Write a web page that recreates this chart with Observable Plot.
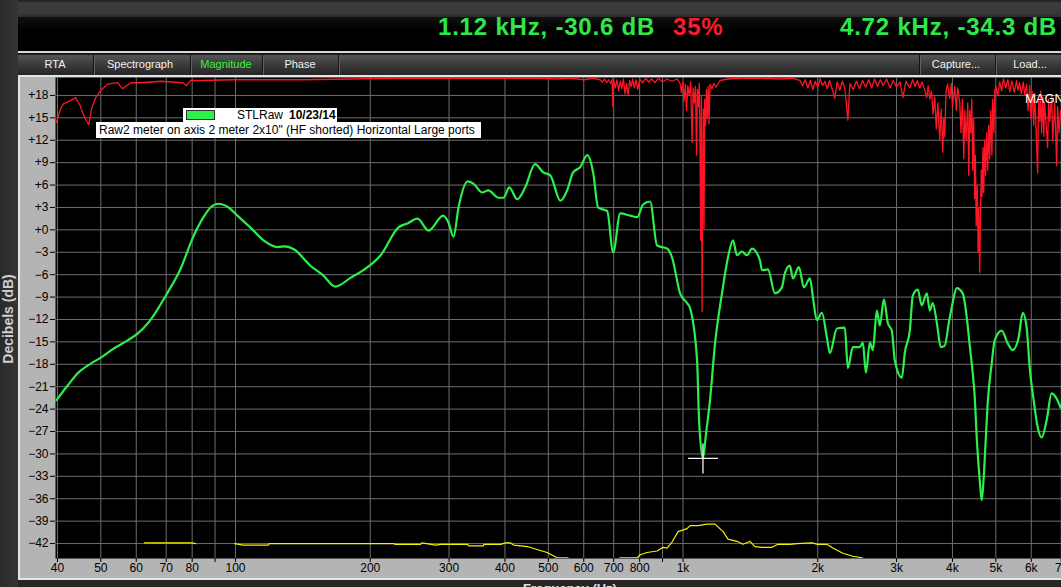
<!DOCTYPE html>
<html>
<head>
<meta charset="utf-8">
<script src="https://cdn.jsdelivr.net/npm/d3@7"></script>
<script src="https://cdn.jsdelivr.net/npm/@observablehq/plot@0.6"></script>
<style>
html,body{margin:0;padding:0;}
body{width:1061px;height:587px;overflow:hidden;background:#262626;position:relative;font-family:"Liberation Sans",Arial,sans-serif;}
.abs{position:absolute;}
#leftcol{left:0;top:0;width:18px;height:587px;background:linear-gradient(90deg,#2a2a2a,#353535);}
#topstrip{left:18px;top:0;width:1043px;height:17px;background:linear-gradient(#1e1e1e 0,#3d3d3d 20%,#383838 80%,#2a2a2a 100%);}
#readout{left:18px;top:17px;width:1043px;height:34px;background:linear-gradient(#101010,#000 40%,#000);}
.ro{position:absolute;top:15px;font-weight:bold;font-size:24px;line-height:24px;letter-spacing:0.8px;color:#2ee84a;white-space:nowrap;}
#sepline{left:18px;top:51px;width:1043px;height:2px;background:#d8d8d8;}
#gap{left:18px;top:53px;width:1043px;height:2px;background:#1a1a1a;}
#tabs{left:18px;top:55px;width:1043px;height:20px;background:linear-gradient(#555 0,#3a3a3a 50%,#262626 100%);}
.sep{position:absolute;top:55px;width:1px;height:20px;background:#151515;box-shadow:1px 0 0 #606060;}
.tab{position:absolute;top:55px;height:20px;line-height:19px;font-size:11px;color:#f2f2f2;text-align:center;width:120px;margin-left:-60px;white-space:nowrap;}
#panel{left:18px;top:75px;width:1043px;height:505px;background:#b4b4b4;box-sizing:border-box;border-left:2px solid #e4e4e4;border-top:2px solid #e4e4e4;border-bottom:2px solid #e4e4e4;}
#plotbox{left:20px;top:77px;width:1041px;height:501px;}
#ytitle{left:-62px;top:310px;width:140px;height:18px;line-height:18px;text-align:center;font-size:14px;font-weight:bold;color:#cfcfcf;transform:rotate(-90deg);white-space:nowrap;}
#xtitle{left:480px;top:581px;width:180px;text-align:center;font-size:13px;font-weight:bold;color:#e0e0e0;white-space:nowrap;}
#leg1{left:183px;top:108px;width:154px;height:14px;background:#fff;}
#swatch{left:186px;top:110px;width:27px;height:8px;background:#2ef04a;border:1px solid #303030;}
.legtxt{position:absolute;font-size:12px;line-height:14px;color:#000;white-space:nowrap;}
#leg2{left:96px;top:122px;width:385px;height:16px;background:#fff;}
#magn{left:1025px;top:91px;font-size:13px;color:#fff;white-space:nowrap;}
</style>
</head>
<body>
<div id="leftcol" class="abs"></div>
<div id="topstrip" class="abs"></div>
<div id="readout" class="abs"></div>
<div class="ro" style="left:438px;">1.12 kHz, -30.6 dB</div>
<div class="ro" style="left:673px;color:#ff1a2a;">35%</div>
<div class="ro" style="left:840px;">4.72 kHz, -34.3 dB</div>
<div id="sepline" class="abs"></div>
<div id="gap" class="abs"></div>
<div id="tabs" class="abs"></div>
<div class="sep" style="left:93px"></div>
<div class="sep" style="left:190px"></div>
<div class="sep" style="left:262px"></div>
<div class="sep" style="left:338px"></div>
<div class="sep" style="left:919px"></div>
<div class="sep" style="left:995px"></div>
<div class="tab" style="left:55px">RTA</div>
<div class="tab" style="left:140px">Spectrograph</div>
<div class="tab" style="left:226px;color:#3df03d">Magnitude</div>
<div class="tab" style="left:300px">Phase</div>
<div class="tab" style="left:956px">Capture...</div>
<div class="tab" style="left:1030px">Load...</div>
<div id="panel" class="abs"></div>
<div id="plotbox" class="abs"></div>
<div id="ytitle" class="abs">Decibels (dB)</div>
<div id="xtitle" class="abs">Frequency (Hz)</div>
<div id="leg1" class="abs"></div>
<div id="swatch" class="abs"></div>
<div class="legtxt" style="left:237px;top:108px;">STLRaw</div>
<div class="legtxt" style="left:289px;top:108px;font-weight:bold;">10/23/14</div>
<div id="leg2" class="abs"></div>
<div class="legtxt" style="left:99px;top:123px;">Raw2 meter on axis 2 meter 2x10" (HF shorted) Horizontal Large ports</div>
<div id="magn" class="abs">MAGNITUDE</div>
<script>
// ---- axis ticks ----
const xTicks = [40,50,60,70,80,90,100,200,300,400,500,600,700,800,900,1000,2000,3000,4000,5000,6000,7000];
const xTickLabels = ["40","50","60","70","80","","100","200","300","400","500","600","700","800","","1k","2k","3k","4k","5k","6k","7k"];
const yTicks = [-42,-39,-36,-33,-30,-27,-24,-21,-18,-15,-12,-9,-6,-3,0,3,6,9,12,15,18];
const yTickLabels = ["\u221242","\u221239","\u221236","\u221233","\u221230","\u221227","\u221224","\u221221","\u221218","\u221215","\u221212","\u22129","\u22126","\u22123","+0","+3","+6","+9","+12","+15","+18"];

// ---- green: magnitude (STLRaw) ----
const greenFreq = [39.8,42.2,44.4,47.5,50.0,53.4,57.4,60.4,63.9,70.5,
75.4,80.2,84.8,87.9,91.6,96.5,101,108,115.5,124,
129,135,147,157,167,181,193,211,231,243,
255,270,291,299,307,315,330,340,356,367,
387,397,409,426,444,467,487,505,532,551,
568,589,611,630,646,677,698,724,762,790,
814,844,875,921,945,985,1021,1037,1075,1086,
1108,1126,1149,1179,1222,1260,1293,1320,1354,1390,
1426,1486,1501,1548,1605,1663,1689,1733,1760,1815,
1863,1921,1951,1991,2043,2096,2129,2207,2299,2335,
2396,2484,2522,2562,2615,2656,2710,2753,2810,2869,
2928,2974,3083,3131,3212,3262,3346,3416,3505,3560,
3614,3690,3766,3844,3925,4006,4089,4217,4305,4372,
4440,4486,4532,4602,4650,4698,4746,4795,4895,4971,
5153,5314,5453,5623,5741,5860,5951,6075,6200,6329,
6494,6663,6837,6979];
const greenDb = [-22.8,-20.8,-19.2,-17.9,-17.1,-15.9,-14.8,-13.9,-12.4,-8.4,
-5.2,-1.1,1.7,3.0,3.5,3.0,1.9,0.3,-1.4,-2.3,
-2.2,-2.6,-4.8,-6.1,-7.6,-6.4,-5.4,-3.4,0.3,0.9,
1.5,-0.1,1.9,1.0,-0.9,3.0,6.5,6.2,5.0,5.3,
4.3,4.3,5.7,4.1,5.7,8.8,7.7,7.3,3.9,5.3,
7.7,8.4,10.0,7.6,3.0,2.5,-3.0,2.2,1.9,1.7,
3.4,3.8,-2.1,-2.5,-3.7,-8.5,-9.8,-10.5,-17.5,-25.5,
-30.6,-27.2,-22.8,-15.2,-8.5,-3.7,-1.4,-3.4,-2.9,-3.4,
-2.5,-4.1,-5.4,-5.3,-8.5,-7.7,-5.8,-4.8,-6.5,-5.0,
-7.7,-6.5,-9.0,-12.1,-11.1,-14.4,-16.5,-13.2,-13.1,-18.5,
-15.7,-15.7,-15.1,-19.1,-15.1,-16.1,-10.8,-12.8,-9.3,-12.5,
-13.5,-17.5,-19.8,-16.4,-13.5,-8.8,-8.0,-10.1,-8.5,-10.8,
-9.8,-12.4,-15.7,-15.5,-12.5,-9.7,-7.8,-8.5,-11.7,-15.5,
-19.2,-22.4,-27.8,-33.5,-36.2,-33.1,-28.2,-23.2,-17.9,-14.8,
-13.5,-15.2,-16.1,-14.4,-11.1,-13.1,-18.4,-22.8,-26.4,-27.8,
-25.5,-21.9,-22.6,-23.8];

// ---- red: coherence trace ----
const redFreq = [39.8,40.7,41.3,42.8,43.9,44.9,45.6,46.5,47.0,47.7,
48.7,50.0,51.8,54.5,55.9,58.3,61.4,68,76.2,77.7,
79.4,83.5,97.5,140,234,352,480,520,560,600,
630,653,660,668,675,682,690,694,697,700,
706,712,718,724,730,736,742,748,754,760,
766,772,778,785,792,800,812,825,838,850,
866,880,900,920,945,970,985,992,998,1005,
1012,1018,1025,1032,1040,1048,1053,1060,1066,1072,
1077,1082,1087,1091,1095,1099,1103,1106,1110,1114,
1118,1123,1128,1133,1138,1143,1149,1160,1172,1185,
1209,1260,1340,1486,1646,1750,1825,1850,1875,1900,
1925,1950,1975,2000,2025,2050,2075,2100,2125,2150,
2184,2210,2241,2270,2300,2335,2360,2400,2440,2480,
2520,2560,2600,2640,2680,2720,2760,2800,2850,2899,
2950,3000,3051,3099,3150,3212,3260,3300,3340,3381,
3420,3460,3505,3530,3560,3590,3620,3652,3680,3710,
3747,3775,3805,3825,3844,3870,3900,3945,3975,4000,
4048,4080,4110,4153,4180,4210,4240,4262,4290,4328,
4350,4372,4395,4418,4440,4460,4486,4500,4520,4545,
4565,4579,4602,4620,4640,4660,4680,4698,4721,4745,
4770,4795,4820,4845,4870,4900,4920,4950,4971,5000,
5050,5100,5150,5200,5260,5320,5370,5430,5500,5560,
5600,5652,5700,5760,5800,5860,5900,5951,5990,6030,
6075,6110,6150,6200,6230,6270,6300,6329,6370,6400,
6427,6480,6527,6560,6600,6663,6700,6768,6800,6837,
6870,6920,6979];
const redDb = [14.4,16.3,16.9,17.3,17.7,16.7,15.6,14.5,14.1,16.3,
17.7,18.7,19.5,19.7,18.9,19.7,19.7,19.9,19.7,19.3,
20.0,20.0,20.1,20.1,20.3,20.3,20.3,20.2,20.3,20.1,
20.3,20.1,19.8,20.2,19.7,20.1,19.6,20.2,16.5,20.0,
19.0,20.1,18.6,19.9,18.9,20.2,18.2,19.6,18.0,20.0,
19.2,20.2,19.0,20.1,18.8,20.2,19.7,20.3,19.8,20.2,
19.7,20.3,19.8,20.2,19.9,20.2,19.6,18.4,19.8,17.2,
19.5,16.0,19.3,18.0,19.8,11.7,19.0,17.0,19.2,10.0,
18.8,16.5,19.6,12.5,-1.4,18.0,-10.9,4.0,16.2,0.2,
17.5,14.0,18.8,14.9,19.2,14.2,19.5,18.9,19.6,19.1,
20.0,20.2,20.3,20.3,20.2,20.3,20.0,19.3,20.1,19.0,
20.0,18.8,19.9,19.1,20.2,19.3,19.9,18.9,20.0,19.0,
17.6,19.8,18.7,19.9,18.9,14.7,19.6,18.8,19.9,18.9,
20.0,19.1,20.1,19.0,20.2,19.2,20.1,19.3,20.2,19.0,
20.0,19.1,19.8,17.7,19.9,19.0,20.1,19.2,20.0,19.0,
19.8,18.9,17.7,19.3,17.5,18.6,15.5,17.8,13.5,17.0,
12.0,16.2,10.4,15.0,12.5,18.6,19.5,17.6,19.6,16.5,
19.2,16.0,19.0,17.0,13.0,17.5,9.5,16.0,12.0,17.0,
7.3,16.0,13.0,17.5,8.0,15.0,4.2,10.0,0.5,6.0,
-3.0,3.0,-5.7,2.0,8.0,4.5,11.0,5.0,12.0,7.3,
13.0,8.0,14.0,9.5,16.0,10.0,17.5,13.0,18.5,19.2,
18.0,19.8,18.6,20.2,19.0,20.1,18.5,19.9,18.4,20.0,
18.7,19.7,18.2,19.8,18.0,19.5,16.0,19.3,15.0,18.5,
14.0,18.3,13.5,7.6,17.5,14.5,18.6,13.0,17.8,12.5,
17.0,14.0,11.0,17.5,14.5,18.0,12.0,17.0,13.5,8.6,
16.5,13.0,16.0];

// ---- yellow: lower trace ----
const yellowFreq = [62.6,79.8,81.4,90,99.5,104,118.5,119,226,227,
259,261,280,287,330,332,358,359,391,401,
411,418,449,472,497,523,551,589,687,724,
774,790,802,831,875,902,921,945,975,1021,
1037,1080,1131,1179,1229,1260,1320,1361,1411,1448,
1501,1580,1630,1733,1797,1941,2001,2096,2162,2276,
2396,2509,2650];
const yellowDb = [-41.9,-41.9,-42.0,null,-42.0,-42.2,-42.2,-42.0,-42.0,-42.1,
-42.1,-41.9,-42.2,-42.1,-42.1,-42.3,-42.3,-42.1,-42.1,-41.9,
-41.9,-42.2,-42.4,-42.8,-43.2,-43.9,-43.9,-44.6,-44.6,-43.9,
-43.9,-43.9,-43.5,-43.2,-43.0,-42.5,-42.6,-41.8,-40.4,-40.0,
-39.6,-39.6,-39.4,-39.4,-40.4,-41.4,-41.7,-42.1,-41.7,-42.4,
-42.5,-42.5,-42.1,-42.1,-42.0,-41.9,-42.1,-42.1,-42.6,-43.3,
-43.7,-43.9,-44.6];

// ---- cursor ----
const cursorFreq = [1108];
const cursorDb = [-30.6];

const zip = (fs, ds) => fs.map((f, i) => ({f, db: ds[i]}));
const green = zip(greenFreq, greenDb);
const red = zip(redFreq, redDb);
const yellow = zip(yellowFreq, yellowDb);
const cursor = zip(cursorFreq, cursorDb);
const xLabelRows = xTicks.map((t, i) => ({t, label: xTickLabels[i]}));

const yLabel = new Map(yTicks.map((t, i) => [t, yTickLabels[i]]));

const cross = {
  draw(ctx) {
    ctx.moveTo(-15, 0); ctx.lineTo(15, 0);
    ctx.moveTo(0, -15); ctx.lineTo(0, 15);
  }
};

const chart = Plot.plot({
  width: 1041,
  height: 501,
  marginLeft: 35,
  marginRight: 0,
  marginTop: 0,
  marginBottom: 20,
  style: {background: "#b4b4b4", color: "#000", fontFamily: "'Liberation Sans', Arial, sans-serif", fontSize: "12px", overflow: "visible"},
  x: {type: "log", domain: [39.6, 7010], ticks: xTicks, tickFormat: () => "", tickSize: 4, label: null},
  y: {domain: [-44, 20.4], ticks: yTicks, tickFormat: d => yLabel.get(d) ?? "", tickSize: 5, tickPadding: 2, label: null},
  marks: [
    Plot.frame({fill: "#000", stroke: "none"}),
    Plot.ruleX(xTicks, {stroke: "#6e6e6e", strokeWidth: 1, clip: true}),
    Plot.ruleY(yTicks, {stroke: "#6e6e6e", strokeWidth: 1}),
    Plot.line(yellow, {x: "f", y: "db", stroke: "#f2f200", strokeWidth: 1.2, clip: true}),
    Plot.line(red, {x: "f", y: "db", stroke: "#ff1525", strokeWidth: 1.3, clip: true}),
    Plot.line(green, {x: "f", y: "db", stroke: "#2cf04a", strokeWidth: 2.2, curve: "monotone-x", clip: true}),
    Plot.dot(cursor, {x: "f", y: "db", symbol: cross, stroke: "#f2f2f2", strokeWidth: 1.3, fill: "none", r: 5}),
    Plot.text(xLabelRows, {x: "t", text: "label", frameAnchor: "bottom", dy: 13, fill: "#000", fontSize: 12})
  ]
});
document.getElementById("plotbox").appendChild(chart);
</script>
</body>
</html>
